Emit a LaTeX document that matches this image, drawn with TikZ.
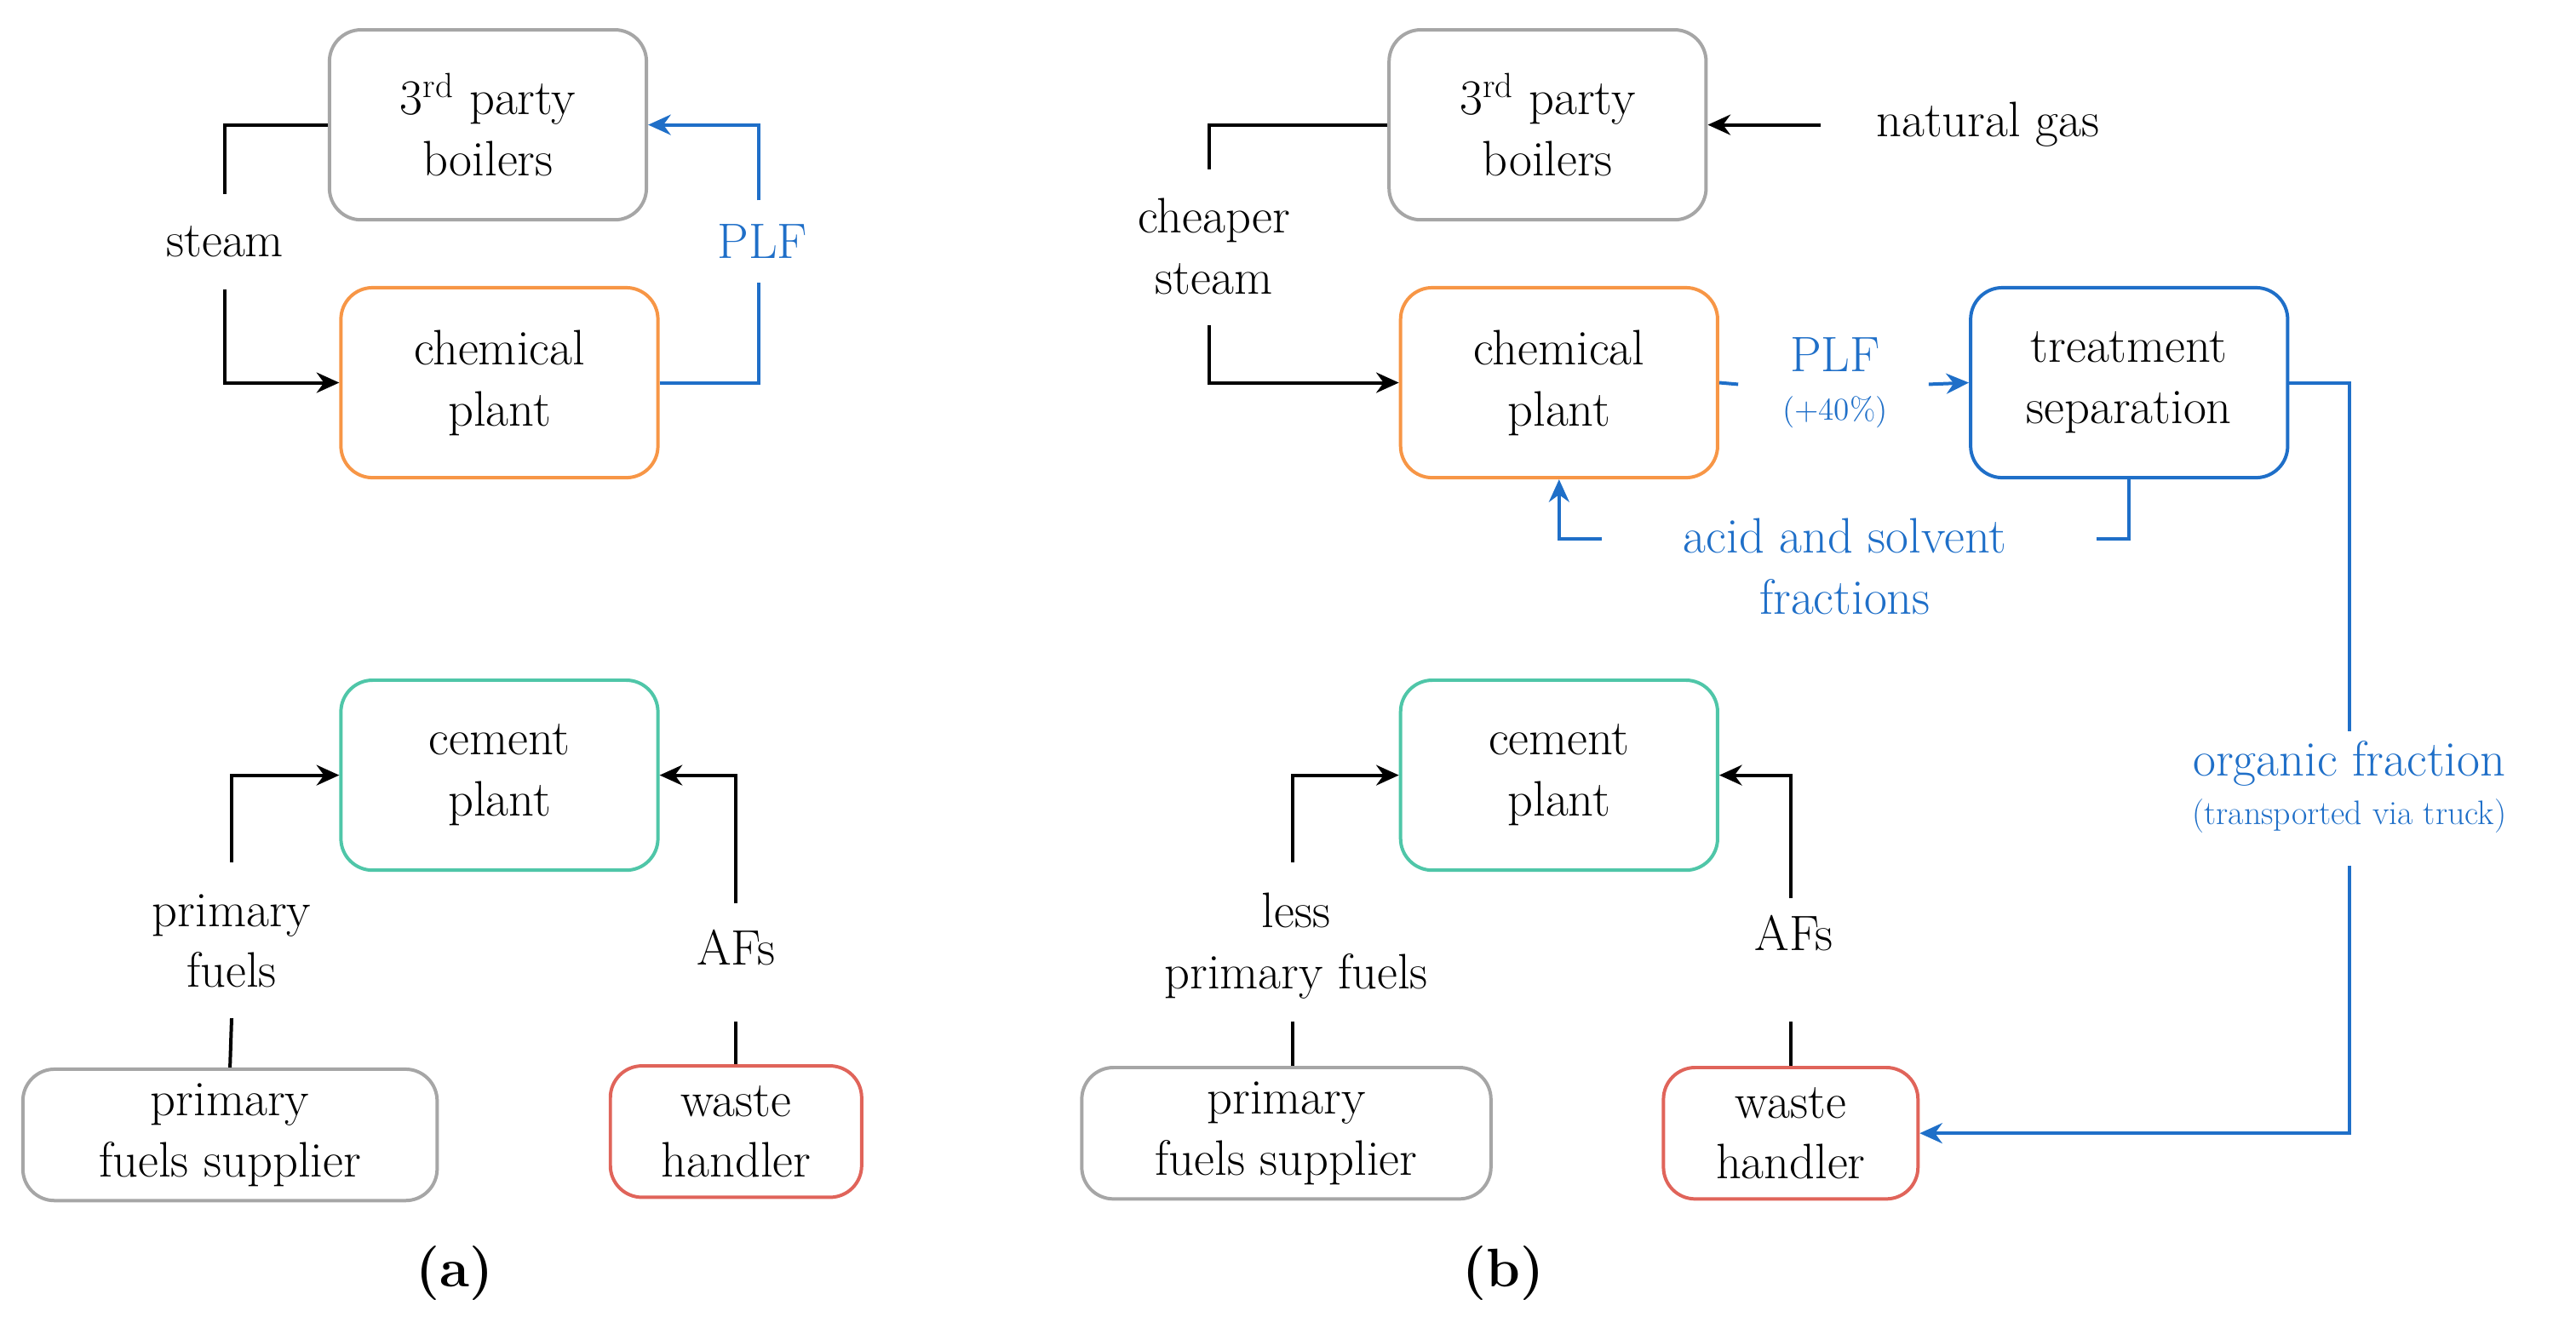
\documentclass[tikz,border=0pt]{standalone}
\usetikzlibrary{arrows.meta}
\definecolor{gbox}{HTML}{A6A6A6}
\definecolor{obox}{HTML}{F79646}
\definecolor{tbox}{HTML}{4FC6A8}
\definecolor{rbox}{HTML}{E0645A}
\definecolor{bl}{HTML}{1F6FC8}
\begin{document}
\begin{tikzpicture}[x=0.0255cm,y=-0.0255cm,
  box/.style={draw,line width=1.5pt,rounded corners=14pt,align=center,font=\fontsize{22}{27}\selectfont,inner sep=0pt},
  bw/.style={minimum width=4.92cm,minimum height=2.95cm},
  lab/.style={align=center,font=\fontsize{22}{27}\selectfont,inner sep=1pt},
  sm/.style={font=\fontsize{14}{16}\selectfont},
  ln/.style={line width=1.5pt},
  ar/.style={ln,-{Stealth[length=10pt,width=9pt]}}]
\useasboundingbox (0,0) rectangle (1568,812);
% panel a
\node[box,bw,draw=gbox] (boilA) at (297,76) {3\textsuperscript{rd} party\\boilers};
\node[box,bw,draw=obox] (chemA) at (304,233) {chemical\\plant};
\node[box,bw,draw=tbox] (cemA) at (304,472) {cement\\plant};
\node[box,draw=gbox,minimum width=6.43cm,minimum height=2.04cm] (supA) at (140,691) {primary\\fuels supplier};
\node[box,draw=rbox,minimum width=3.9cm,minimum height=2.04cm] (wasA) at (448,689) {waste\\handler};
\node[lab] (steamA) at (137,147) {steam};
\node[lab,text=bl] (plfA) at (464,147) {PLF};
\node[lab] (pfA) at (141,573) {primary\\fuels};
\node[lab] (afA) at (448,577) {AFs};
\node[font=\fontsize{24}{28}\selectfont\bfseries] (capA) at (277,775) {(a)};
\coordinate (s1) at (137,118); \coordinate (s2) at (137,176);
\draw[ln] (boilA.west) -| (s1);
\draw[ar] (s2) |- (chemA.west);
\coordinate (p1) at (462,172); \coordinate (p2) at (462,122);
\draw[ln,bl] (chemA.east) -| (p1);
\draw[ar,bl] (p2) |- (boilA.east);
\coordinate (f1) at (141,620); \coordinate (f2) at (141,525);
\draw[ln] (supA.north) -- (f1);
\draw[ar] (f2) |- (cemA.west);
\coordinate (a1) at (448,622); \coordinate (a2) at (448,550);
\draw[ln] (wasA.north) -- (a1);
\draw[ar] (a2) |- (cemA.east);
% panel b
\node[box,bw,draw=gbox] (boilB) at (942,76) {3\textsuperscript{rd} party\\boilers};
\node[box,bw,draw=obox] (chemB) at (949,233) {chemical\\plant};
\node[box,bw,draw=bl] (treat) at (1296,233) {treatment\\separation};
\node[box,bw,draw=tbox] (cemB) at (949,472) {cement\\plant};
\node[box,draw=gbox,minimum width=6.35cm,minimum height=2.04cm] (supB) at (783,690) {primary\\fuels supplier};
\node[box,draw=rbox,minimum width=3.95cm,minimum height=2.04cm] (wasB) at (1090,690) {waste\\handler};
\node[lab] (ngas) at (1210,76) {natural gas};
\node[lab] (steamB) at (739,150) {cheaper\\steam};
\node[lab,text=bl] (plfB) at (1117,216) {PLF};
\node[sm,text=bl] (pct) at (1117,251) {(+40\%)};
\node[lab,text=bl] (acid) at (1123,345) {acid and solvent\\fractions};
\node[lab,text=bl] (org) at (1430,465) {organic fraction};
\node[sm,text=bl,font=\fontsize{15}{17}\selectfont] (truck) at (1430,497) {(transported via truck)};
\node[lab] (pfB) at (789,576) {less\\primary fuels};
\node[lab] (afB) at (1092,568) {AFs};
\node[font=\fontsize{24}{28}\selectfont\bfseries] (capB) at (915,775) {(b)};
\coordinate (ng) at (1108,76);
\draw[ar] (ng) -- (boilB.east);
\coordinate (t1) at (736,103); \coordinate (t2) at (736,198);
\draw[ln] (boilB.west) -| (t1);
\draw[ar] (t2) |- (chemB.west);
\coordinate (q1) at (1058,234); \coordinate (q2) at (1174,234);
\draw[ln,bl] (chemB.east) -- (q1);
\draw[ar,bl] (q2) -- (treat.west);
\coordinate (r1) at (1276,328); \coordinate (r2) at (975,328);
\draw[ln,bl] (treat.south) |- (r1);
\draw[ar,bl] (r2) -| (chemB.south);
\coordinate (o1) at (1430,445); \coordinate (o2) at (1430,527);
\draw[ln,bl] (treat.east) -| (o1);
\draw[ar,bl] (o2) |- (wasB.east);
\coordinate (g1) at (787,622); \coordinate (g2) at (787,525);
\draw[ln] (supB.north-|g1) -- (g1);
\draw[ar] (g2) |- (cemB.west);
\coordinate (h1) at (1090,622); \coordinate (h2) at (1090,547);
\draw[ln] (wasB.north) -- (h1);
\draw[ar] (h2) |- (cemB.east);
\end{tikzpicture}
\end{document}
